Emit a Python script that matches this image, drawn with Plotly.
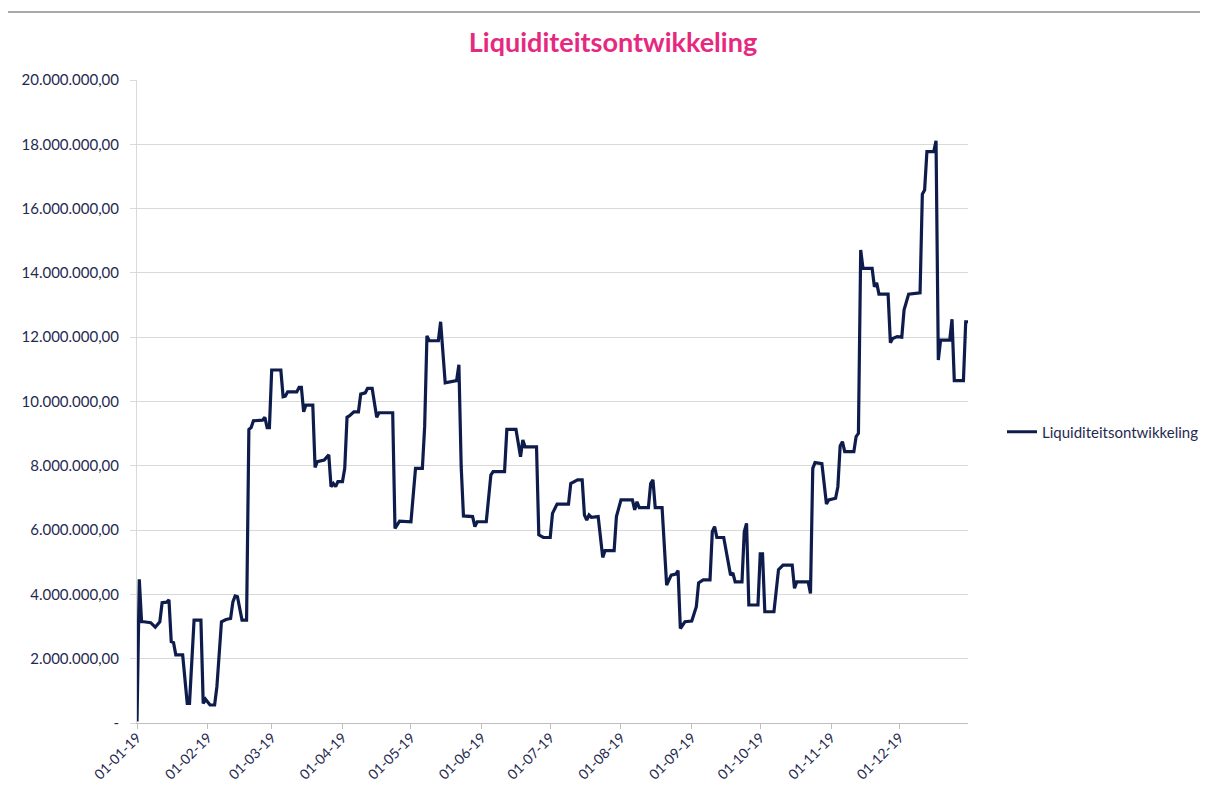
import datetime as dt
import plotly.graph_objects as go

# Day offsets from 01-01-2019 and liquidity balance (millions EUR)
day_offsets = [0, 1, 2, 3, 6, 8, 10, 11, 13, 14, 15, 16, 17, 20, 22, 23, 25, 28, 29, 30,
               32, 34, 35, 37, 39, 41, 42, 43, 44, 46, 48, 49, 50, 51, 55, 56, 57, 58, 59, 63,
               64, 65, 66, 70, 71, 72, 73, 74, 77, 78, 79, 82, 84, 85, 86, 87, 88, 90, 91, 92,
               93, 95, 97, 98, 100, 101, 103, 105, 106, 112, 113, 115, 120, 122, 125, 126, 127, 128, 132, 133,
               135, 140, 141, 142, 143, 147, 148, 149, 153, 155, 156, 161, 162, 166, 168, 169, 170, 175, 176, 178,
               181, 182, 184, 189, 190, 193, 195, 196, 197, 198, 199, 202, 204, 205, 209, 210, 212, 217, 218, 219,
               220, 224, 225, 226, 227, 230, 232, 234, 236, 237, 238, 240, 243, 245, 246, 248, 251, 252, 253, 254,
               257, 259, 260, 261, 262, 265, 266, 267, 268, 272, 273, 274, 275, 279, 281, 283, 287, 288, 289, 294,
               295, 296, 297, 300, 302, 303, 306, 307, 308, 309, 310, 314, 315, 316, 317, 318, 322, 323, 324, 325,
               329, 330, 331, 333, 335, 336, 338, 343, 344, 345, 346, 349, 350, 351, 352, 356, 357, 358, 362, 363,
               364]
saldo_mln = [0.05, 4.47, 3.15, 3.15, 3.12, 2.98, 3.15, 3.74, 3.76, 3.83, 2.53, 2.50, 2.12, 2.12, 0.61, 0.61, 3.20, 3.20, 0.61, 0.74,
             0.56, 0.56, 1.13, 3.15, 3.22, 3.25, 3.77, 3.95, 3.93, 3.20, 3.20, 9.13, 9.19, 9.40, 9.42, 9.51, 9.19, 9.19, 10.98, 10.98,
             10.15, 10.17, 10.30, 10.30, 10.44, 10.44, 9.68, 9.89, 9.89, 7.95, 8.13, 8.18, 8.34, 7.35, 7.45, 7.35, 7.51, 7.51, 7.92, 9.51,
             9.55, 9.68, 9.68, 10.23, 10.27, 10.41, 10.41, 9.51, 9.65, 9.65, 6.05, 6.28, 6.26, 7.92, 7.92, 9.21, 12.04, 11.89, 11.89, 12.48,
             10.58, 10.65, 11.14, 7.98, 6.44, 6.42, 6.11, 6.26, 6.26, 7.71, 7.82, 7.82, 9.13, 9.13, 8.28, 8.80, 8.59, 8.59, 5.85, 5.77,
             5.77, 6.52, 6.81, 6.81, 7.45, 7.56, 7.56, 6.47, 6.31, 6.47, 6.40, 6.42, 5.15, 5.36, 5.36, 6.42, 6.94, 6.94, 6.63, 6.88,
             6.70, 6.70, 7.45, 7.56, 6.70, 6.70, 4.29, 4.60, 4.63, 4.74, 2.94, 3.15, 3.17, 3.62, 4.36, 4.45, 4.45, 5.95, 6.11, 5.77,
             5.77, 4.96, 4.60, 4.67, 4.39, 4.39, 5.95, 6.21, 3.67, 3.67, 5.26, 5.26, 3.46, 3.46, 4.77, 4.91, 4.91, 4.19, 4.39, 4.39,
             4.03, 7.92, 8.10, 8.07, 6.81, 6.94, 6.99, 7.35, 8.62, 8.75, 8.44, 8.44, 8.91, 9.01, 14.71, 14.14, 14.14, 13.57, 13.69, 13.34,
             13.34, 11.83, 11.96, 12.02, 12.00, 12.85, 13.34, 13.38, 16.45, 16.58, 17.77, 17.77, 18.11, 11.29, 11.91, 11.91, 12.56, 10.65, 10.65, 12.48,
             12.48]

y_tick_vals = [0, 2e6, 4e6, 6e6, 8e6, 10e6, 12e6, 14e6, 16e6, 18e6, 20e6]
y_tick_text = ["-", "2.000.000,00", "4.000.000,00", "6.000.000,00", "8.000.000,00",
               "10.000.000,00", "12.000.000,00", "14.000.000,00", "16.000.000,00",
               "18.000.000,00", "20.000.000,00"]

start = dt.date(2019, 1, 1)
dates = [start + dt.timedelta(days=d) for d in day_offsets]
values = [v * 1e6 for v in saldo_mln]

navy = "#0E1C4C"
label_color = "#1F2A50"

# figure sized so that, with the page's 8px body margin, it fills the window
W, H = 1192, 776
L, R, T, B = 129, 232, 72, 61
pw, ph = W - L - R, H - T - B

fig = go.Figure()
fig.add_trace(go.Scatter(
    x=dates, y=values, mode="lines", name="Liquiditeitsontwikkeling",
    line=dict(color=navy, width=3.2),
))

fig.update_layout(
    width=W, height=H,
    paper_bgcolor="white", plot_bgcolor="white",
    margin=dict(l=L, r=R, t=T, b=B, autoexpand=False),
    title=dict(text="<b>Liquiditeitsontwikkeling</b>", x=605 / W, xanchor="center",
               y=1 - 35 / H, yanchor="middle",
               font=dict(family="Lato", size=27, color="#E6297F")),
    font=dict(family="Lato", size=13, color=label_color),
    showlegend=True,
    legend=dict(x=(994 - L) / pw, y=(H - B - 424) / ph, xanchor="left", yanchor="middle",
                font=dict(family="Lato", size=15, color=label_color),
                bgcolor="rgba(0,0,0,0)"),
    xaxis=dict(
        type="date", automargin=False,
        range=[dt.date(2019, 1, 1), dt.date(2019, 12, 31)],
        tickformat="%d-%m-%y", dtick="M1", tick0="2019-01-01",
        tickangle=-45, ticks="outside", ticklen=5, tickcolor="#BFBFBF",
        ticklabelstandoff=-5,
        showgrid=False, showline=True, linecolor="#BFBFBF", linewidth=1,
        tickfont=dict(family="Lato", size=14, color=label_color),
        zeroline=False,
    ),
    yaxis=dict(
        range=[0, 20e6], tickvals=y_tick_vals, ticktext=y_tick_text, automargin=False,
        showgrid=True, gridcolor="#D9D9D9", gridwidth=1,
        ticks="outside", ticklen=6, tickcolor="#D9D9D9",
        showline=True, linecolor="#D9D9D9", linewidth=1,
        ticklabelstandoff=8,
        tickfont=dict(family="Lato", size=15, color=label_color),
        zeroline=False,
    ),
    shapes=[dict(type="line", xref="paper", yref="paper",
                 x0=-L / pw, x1=(W - L) / pw,
                 y0=(H - B - 4) / ph, y1=(H - B - 4) / ph,
                 line=dict(color="#8C8C8C", width=1.5))],
)

fig.write_html("out.html")
